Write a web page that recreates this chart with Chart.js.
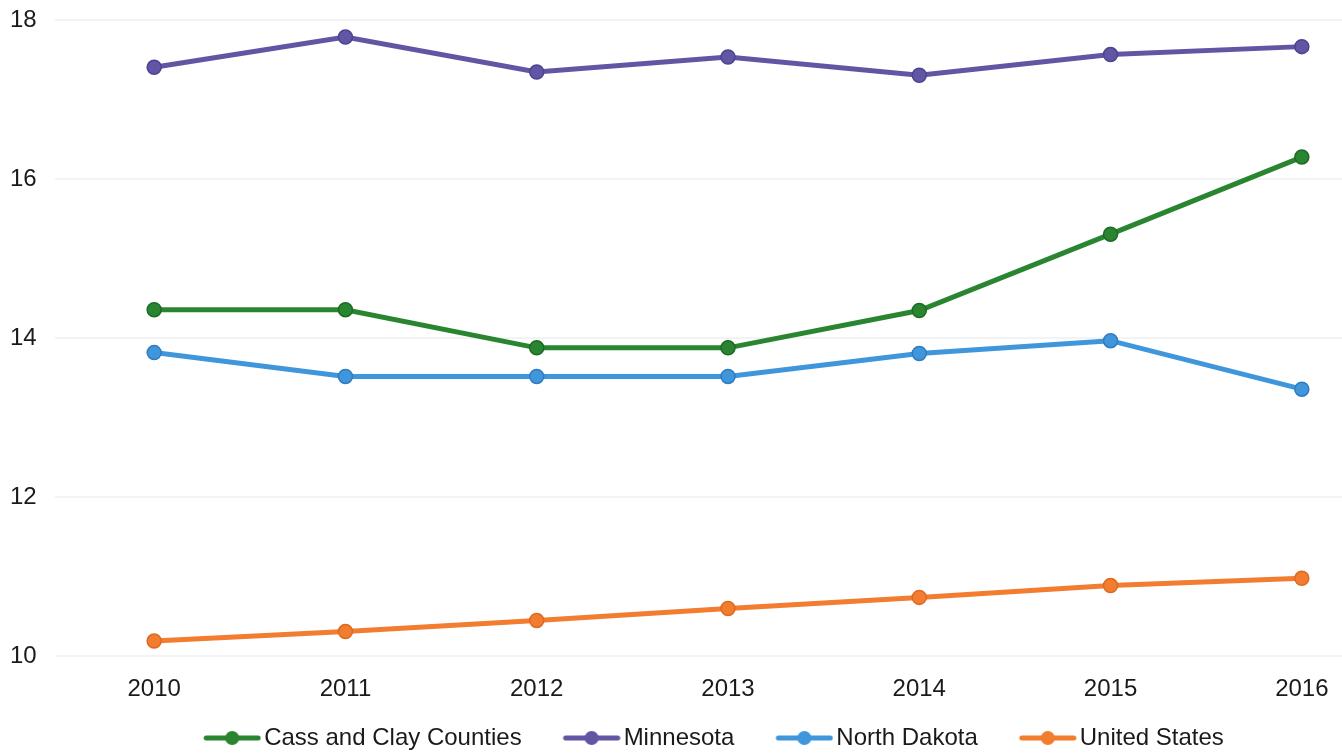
<!DOCTYPE html>
<html>
<head>
<meta charset="utf-8">
<script src="https://cdn.jsdelivr.net/npm/chart.js@4"></script>
<style>
  html, body { margin: 0; padding: 0; background: #fff; }
  #rateChart { display: block; }
</style>
</head>
<body>
<canvas id="rateChart" width="1342" height="753"></canvas>
<script>
const years = [2010, 2011, 2012, 2013, 2014, 2015, 2016];
const yTicks = [10, 12, 14, 16, 18];

const seriesNames = ["Cass and Clay Counties", "Minnesota", "North Dakota", "United States"];
const cassClay = [14.36, 14.36, 13.88, 13.88, 14.35, 15.31, 16.28];
const minnesota = [17.41, 17.79, 17.35, 17.54, 17.31, 17.57, 17.67];
const northDakota = [13.82, 13.52, 13.52, 13.52, 13.81, 13.97, 13.36];
const unitedStates = [10.19, 10.31, 10.45, 10.60, 10.74, 10.89, 10.98];

const colors = ["#2a8530", "#6156a4", "#4096da", "#f27d30"];
const pointEdges = ["#1f6a25", "#4d4390", "#2f7cc0", "#de6a20"];

// legend swatch: line with a dot, sitting in the right part of a wide
// transparent canvas so the gap before the text stays small
const SWATCH_BOX = 80;
function legendSwatch(color) {
  const c = document.createElement("canvas");
  c.width = 98;
  c.height = 16;
  const g = c.getContext("2d");
  g.strokeStyle = color;
  g.lineWidth = 5;
  g.lineCap = "round";
  g.beginPath();
  g.moveTo(43, 8);
  g.lineTo(95, 8);
  g.stroke();
  g.fillStyle = color;
  g.beginPath();
  g.arc(69, 8, 7, 0, Math.PI * 2);
  g.fill();
  return c;
}

const allValues = [cassClay, minnesota, northDakota, unitedStates];
const datasets = seriesNames.map((name, i) => ({
  label: name,
  data: years.map((yr, j) => ({ x: yr, y: allValues[i][j] })),
  borderColor: colors[i],
  backgroundColor: colors[i],
  borderWidth: 5,
  pointRadius: 7,
  pointHoverRadius: 7,
  pointBorderWidth: 1.5,
  pointBorderColor: pointEdges[i],
  swatch: legendSwatch(colors[i]),
  tension: 0
}));

const font = { family: "'Liberation Sans', Arial, sans-serif", size: 24 };

// nudge the legend row a little to the right
const legendShift = {
  id: "legendShift",
  afterLayout(chart) {
    const lg = chart.legend;
    lg.left += 25;
    lg.right += 25;
    lg.top += 1;
    lg.bottom += 1;
  }
};

new Chart(document.getElementById("rateChart").getContext("2d"), {
  type: "line",
  data: { datasets: datasets },
  plugins: [legendShift],
  options: {
    responsive: false,
    animation: false,
    layout: { autoPadding: false, padding: { top: 0, left: 4, right: 0, bottom: 0 } },
    plugins: {
      tooltip: { enabled: false },
      legend: {
        position: "bottom",
        maxHeight: 38,
        labels: {
          color: "#1a1a1a",
          font: font,
          usePointStyle: true,
          pointStyleWidth: SWATCH_BOX,
          padding: 10,
          generateLabels: chart => chart.data.datasets.map((d, i) => ({
            text: d.label,
            pointStyle: d.swatch,
            fillStyle: d.borderColor,
            strokeStyle: d.borderColor,
            lineWidth: 0,
            fontColor: "#1a1a1a",
            hidden: false,
            datasetIndex: i
          }))
        }
      }
    },
    scales: {
      x: {
        type: "linear",
        min: 2009.48,
        max: 2016.21,
        afterBuildTicks: axis => { axis.ticks = years.map(v => ({ value: v })); },
        ticks: { color: "#1a1a1a", font: font, padding: 11, callback: v => String(v) },
        grid: { display: false },
        border: { display: false }
      },
      y: {
        min: 10,
        max: 18,
        afterBuildTicks: axis => { axis.ticks = yTicks.map(v => ({ value: v })); },
        ticks: { color: "#1a1a1a", font: font, padding: 6 },
        grid: { color: "#f3f3f3", lineWidth: 2, drawTicks: true, tickLength: 12, tickColor: "rgba(0,0,0,0)" },
        border: { display: false }
      }
    }
  }
});
</script>
</body>
</html>
